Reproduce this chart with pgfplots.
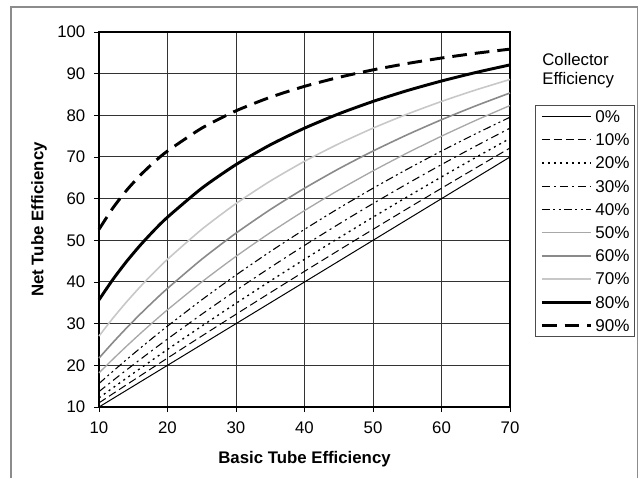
\documentclass[border=0pt]{standalone}
\usepackage{fontspec}
\setmainfont{Liberation Sans}
\usepackage{pgfplots}
\pgfplotsset{compat=1.18}
\definecolor{GridGray}{HTML}{333333}
\definecolor{Gray50}{HTML}{A8A8A8}
\definecolor{Gray60}{HTML}{8A8A8A}
\definecolor{Gray70}{HTML}{C8C8C8}
\definecolor{FrameGray}{HTML}{8C8C8C}

\begin{document}
\begin{tikzpicture}
\useasboundingbox (-74.25pt,-53.25pt) rectangle (407.25pt,305.25pt);
\begin{axis}[
  at={(0,0)}, anchor=south west,
  scale only axis, clip=false,
  width=308.25pt, height=281.25pt,
  xmin=10, xmax=70, ymin=10, ymax=100,
  xtick={10,20,...,70}, ytick={10,20,...,100},
  tick align=outside, major tick length=3.75pt,
  xtick pos=bottom, ytick pos=left,
  tick style={black, line width=0.6pt},
  axis line style={black, line width=1.1pt},
  grid=major,
  major grid style={draw=GridGray, line width=0.75pt},
  /pgf/number format/assume math mode=true,
  ticklabel style={font=\fontsize{12.6}{14}\selectfont},
  xticklabel style={yshift=-4pt},
  yticklabel style={xshift=-3pt},
  xlabel={Basic Tube Efficiency},
  ylabel={Net Tube Efficiency},
  label style={font=\fontsize{12.6}{15}\bfseries},
  xlabel style={at={(axis description cs:0.5,-0.139)}, anchor=center},
  ylabel style={at={(axis description cs:-0.146,0.5)}, anchor=center},
  legend image code/.code={\draw[#1] (0pt,0pt) -- (37pt,0pt);},
  legend style={
    at={(1.060,0.806)}, anchor=north west,
    draw=black!70, line width=0.75pt, fill=white,
    font=\fontsize{12.8}{14}\selectfont,
    inner sep=4pt, row sep=8.4pt,
    nodes={inner sep=0pt, text height=9pt, text depth=0pt},
    cells={anchor=west},
    /tikz/every odd column/.append style={column sep=2pt},
  },
  every axis plot/.append style={smooth, tension=0.4},
]
% 0%
\addplot[black, line width=0.75pt] coordinates {(10,10) (70,70)};
\addlegendentry{0\%}
% 10%
\addplot[black, line width=0.75pt, dash pattern=on 6pt off 3pt] coordinates {
  (10,10.989) (12,13.158) (14,15.317) (16,17.467) (18,19.608) (20,21.739)
  (25,27.027) (30,32.258) (35,37.433) (40,42.553) (45,47.619) (50,52.632)
  (55,57.592) (60,62.500) (65,67.358) (70,72.165)};
\addlegendentry{10\%}
% 20%
\addplot[black, line width=1pt, dash pattern=on 1.5pt off 3pt] coordinates {
  (10,12.195) (12,14.563) (14,16.908) (16,19.231) (18,21.531) (20,23.810)
  (25,29.412) (30,34.884) (35,40.230) (40,45.455) (45,50.562) (50,55.556)
  (55,60.440) (60,65.217) (65,69.892) (70,74.468)};
\addlegendentry{20\%}
% 30%
\addplot[black, line width=0.8pt, dash pattern=on 6pt off 3pt on 1.5pt off 3pt] coordinates {
  (10,13.699) (12,16.304) (14,18.868) (16,21.390) (18,23.873) (20,26.316)
  (25,32.258) (30,37.975) (35,43.478) (40,48.780) (45,53.892) (50,58.824)
  (55,63.584) (60,68.182) (65,72.626) (70,76.923)};
\addlegendentry{30\%}
% 40%
\addplot[black, line width=0.8pt, dash pattern=on 6pt off 2.5pt on 1.5pt off 2.5pt on 1.5pt off 2.5pt] coordinates {
  (10,15.625) (12,18.519) (14,21.341) (16,24.096) (18,26.786) (20,29.412)
  (25,35.714) (30,41.667) (35,47.297) (40,52.632) (45,57.692) (50,62.500)
  (55,67.073) (60,71.429) (65,75.581) (70,79.545)};
\addlegendentry{40\%}
% 50%
\addplot[Gray50, line width=1pt] coordinates {
  (10,18.182) (12,21.429) (14,24.561) (16,27.586) (18,30.508) (20,33.333)
  (25,40.000) (30,46.154) (35,51.852) (40,57.143) (45,62.069) (50,66.667)
  (55,70.968) (60,75.000) (65,78.788) (70,82.353)};
\addlegendentry{50\%}
% 60%
\addplot[Gray60, line width=1.2pt] coordinates {
  (10,21.739) (12,25.424) (14,28.926) (16,32.258) (18,35.433) (20,38.462)
  (25,45.455) (30,51.724) (35,57.377) (40,62.500) (45,67.164) (50,71.429)
  (55,75.342) (60,78.947) (65,82.278) (70,85.366)};
\addlegendentry{60\%}
% 70%
\addplot[Gray70, line width=1.2pt] coordinates {
  (10,27.027) (12,31.250) (14,35.176) (16,38.835) (18,42.254) (20,45.455)
  (25,52.632) (30,58.824) (35,64.220) (40,68.966) (45,73.171) (50,76.923)
  (55,80.292) (60,83.333) (65,86.093) (70,88.608)};
\addlegendentry{70\%}
% 80%
\addplot[black, line width=2.2pt] coordinates {
  (10,35.714) (12,40.541) (14,44.872) (16,48.780) (18,52.326) (20,55.556)
  (25,62.500) (30,68.182) (35,72.917) (40,76.923) (45,80.357) (50,83.333)
  (55,85.938) (60,88.235) (65,90.278) (70,92.105)};
\addlegendentry{80\%}
% 90%
\addplot[black, line width=2.2pt, dash pattern=on 11pt off 6pt] coordinates {
  (10,52.632) (12,57.692) (14,61.947) (16,65.574) (18,68.702) (20,71.429)
  (25,76.923) (30,81.081) (35,84.337) (40,86.957) (45,89.109) (50,90.909)
  (55,92.437) (60,93.750) (65,94.891) (70,95.890)};
\addlegendentry{90\%}
\node[anchor=north west, align=left, inner sep=0pt,
      font=\fontsize{12.6}{14.5}\selectfont]
  at (rel axis cs:1.078,0.944) {Collector\\Efficiency};
\end{axis}
\draw[FrameGray, line width=0.9pt]
  (-66pt,-53.25pt) -- (-66pt,300pt) -- (404pt,300pt) -- (404pt,-53.25pt);
\end{tikzpicture}
\end{document}
